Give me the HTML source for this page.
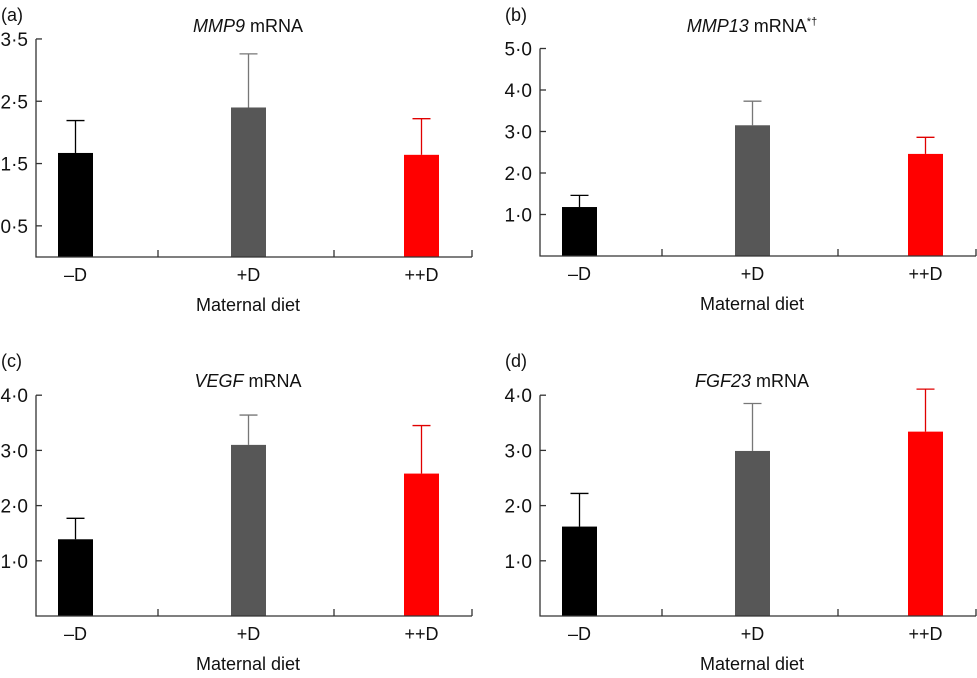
<!DOCTYPE html>
<html><head><meta charset="utf-8"><style>
body{margin:0;background:#fff;}
svg text{font-family:"Liberation Sans",Arial,sans-serif;fill:#111;}
</style></head><body>
<svg id="fig" width="977" height="673" viewBox="0 0 977 673" xmlns="http://www.w3.org/2000/svg"></svg>
<script>
const categories = ["–D", "+D", "++D"];
const valuesA = [1.67, 2.40, 1.64];
const errorsA = [2.19, 3.26, 2.22];
const valuesB = [1.18, 3.15, 2.46];
const errorsB = [1.46, 3.73, 2.86];
const valuesC = [1.39, 3.10, 2.58];
const errorsC = [1.77, 3.64, 3.45];
const valuesD = [1.62, 2.99, 3.34];
const errorsD = [2.22, 3.85, 4.11];
const ticksA = [0.5, 1.5, 2.5, 3.5];
const tickLabelsA = ["0·5", "1·5", "2·5", "3·5"];
const ticks4 = [1, 2, 3, 4];
const tickLabels4 = ["1·0", "2·0", "3·0", "4·0"];
const ticks5 = [1, 2, 3, 4, 5];
const tickLabels5 = ["1·0", "2·0", "3·0", "4·0", "5·0"];

const NS = "http://www.w3.org/2000/svg";
const svg = document.getElementById("fig");
const barColors = ["#000", "#575757", "#ff0000"];
const errColors = ["#000", "#777", "#e00000"];
function mk(tag, attrs, parent){const e=document.createElementNS(NS,tag);for(const k in attrs)e.setAttribute(k,attrs[k]);(parent||svg).appendChild(e);return e;}

function panel(o){
  const g = mk("g", {});
  
  
  const y = v => o.base - v * o.unit;
  const barX = [o.x0 + 22, o.x0 + 195, o.x0 + 368];
  const bw = 35;
  const pl = mk("text", {x: o.x0 - 35, y: o.labelY, "font-size": 18}, g);
  pl.textContent = "(" + o.id + ")";
  
  
  const t = mk("text", {x: o.x0 + 212, y: o.titleY, "font-size": 18, "text-anchor": "middle"}, g);
  t.innerHTML = '<tspan font-style="italic">' + o.gene + '</tspan> mRNA' + (o.sup ? '<tspan font-size="11" dy="-7">*†</tspan>' : '');
  
  
  o.values.forEach((v, i) => {
    const cx = barX[i] + bw / 2;
    const eb = mk("line", {x1: cx, x2: cx, y1: y(v), y2: y(o.errors[i]), stroke: errColors[i], "stroke-width": 1.3}, g);
    
    
    const cap = mk("line", {x1: cx - 9, x2: cx + 9, y1: y(o.errors[i]), y2: y(o.errors[i]), stroke: errColors[i], "stroke-width": 1.3}, g);
    
    
    const r = mk("rect", {x: barX[i], y: y(v), width: bw, height: o.base - y(v), fill: barColors[i]}, g);
    
    
    const lb = mk("text", {x: cx, y: o.base + 24, "font-size": 18, "text-anchor": "middle"}, g);
    lb.textContent = categories[i];
    
    
  });
  const top = y(o.ticks[o.ticks.length - 1]);
  const ax = mk("path", {d: `M${o.x0} ${top}V${o.base}H${o.x0 + 436}`, stroke: "#333", "stroke-width": 1.3, fill: "none"}, g);
  
  
  [o.x0 + 122, o.x0 + 298, o.x0 + 436].forEach(tx => {
    const tk = mk("line", {x1: tx, x2: tx, y1: o.base, y2: o.base - 7, stroke: "#333", "stroke-width": 1.3}, g);
    
    
  });
  o.ticks.forEach((tv, i) => {
    const tk = mk("line", {x1: o.x0, x2: o.x0 + 6, y1: y(tv), y2: y(tv), stroke: "#333", "stroke-width": 1.3}, g);
    
    
    const tl = mk("text", {x: o.tickX, y: y(tv) + 7, "font-size": 19, "text-anchor": "end"}, g);
    tl.textContent = o.tickLabels[i];
    
    
  });
  const xt = mk("text", {x: o.x0 + 212, y: o.base + 54, "font-size": 18, "text-anchor": "middle"}, g);
  xt.textContent = "Maternal diet";
  
  
}
panel({id: "a", gene: "MMP9", x0: 36, base: 257, unit: 62.3, labelY: 21, titleY: 32, tickX: 28, values: valuesA, errors: errorsA, ticks: ticksA, tickLabels: tickLabelsA});
panel({id: "b", gene: "MMP13", sup: true, x0: 540, base: 256, unit: 41.5, labelY: 21, titleY: 32, tickX: 532, values: valuesB, errors: errorsB, ticks: ticks5, tickLabels: tickLabels5});
panel({id: "c", gene: "VEGF", x0: 36, base: 616, unit: 55.2, labelY: 367, titleY: 387, tickX: 28, values: valuesC, errors: errorsC, ticks: ticks4, tickLabels: tickLabels4});
panel({id: "d", gene: "FGF23", x0: 540, base: 616, unit: 55.2, labelY: 367, titleY: 387, tickX: 532, values: valuesD, errors: errorsD, ticks: ticks4, tickLabels: tickLabels4});
</script>
</body></html>
